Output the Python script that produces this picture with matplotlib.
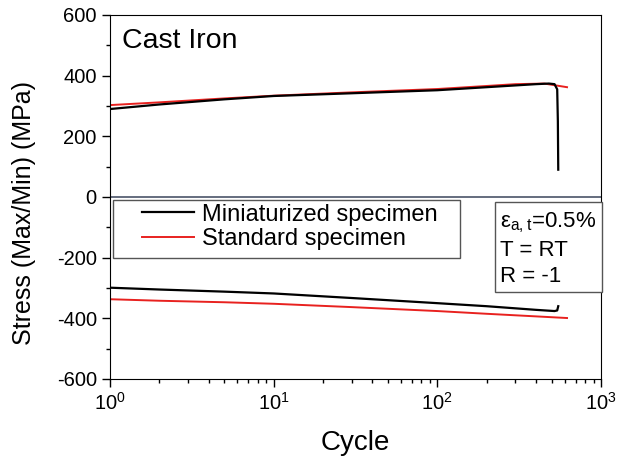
import matplotlib
matplotlib.use('Agg')
import matplotlib.pyplot as plt
import matplotlib as mpl
from matplotlib.patches import Rectangle

mpl.rcParams['font.family'] = ['Liberation Sans', 'DejaVu Sans']
mpl.rcParams['mathtext.default'] = 'regular'
mpl.rcParams['axes.unicode_minus'] = False
mpl.rcParams['xtick.labelsize'] = 14.5
mpl.rcParams['ytick.labelsize'] = 14.5

# miniaturized specimen (black), max and min stress per cycle
mini_cycles_max = [1, 2, 5, 10, 30, 100, 200, 400, 480, 520, 540, 545, 548]
mini_stress_max = [290, 305, 322, 333, 342, 352, 362, 372, 374, 372, 355, 250, 90]
mini_cycles_min = [1, 2, 5, 10, 30, 100, 200, 400, 520, 540, 548]
mini_stress_min = [-299, -305, -312, -318, -333, -350, -360, -372, -376, -374, -360]

# standard specimen (red)
std_cycles = [1, 2, 5, 10, 30, 100, 200, 300, 450, 620]
std_stress_max = [303, 312, 325, 334, 345, 356, 366, 372, 374, 362]
std_stress_min = [-337, -342, -347, -352, -363, -376, -385, -390, -395, -399]

fig = plt.figure(figsize=(6.19, 4.59), dpi=100)
ax = fig.add_axes([110 / 619, 80 / 459, 491 / 619, 364 / 459])

ax.plot(std_cycles, std_stress_max, color='#e8211f', lw=1.4)
ax.plot(std_cycles, std_stress_min, color='#e8211f', lw=1.4)
ax.plot(mini_cycles_max, mini_stress_max, color='black', lw=1.6,
        label='Miniaturized specimen')
ax.plot(mini_cycles_min, mini_stress_min, color='black', lw=1.6)
# proxy for the legend so the red entry shows up
ax.plot([], [], color='#e8211f', lw=1.4, label='Standard specimen')

ax.axhline(0, color='#4a5468', lw=1.2)

ax.set_xscale('log')
ax.set_xlim(1, 1000)
ax.set_ylim(-600, 600)
ax.set_yticks([-600, -400, -200, 0, 200, 400, 600])
ax.set_yticks([-500, -300, -100, 100, 300, 500], minor=True)
ax.tick_params(which='both', direction='out', top=False, right=False)
ax.tick_params(which='major', length=6, width=1)
ax.tick_params(which='minor', length=3, width=1)

ax.set_xlabel('Cycle', fontsize=20)
ax.set_ylabel('Stress (Max/Min) (MPa)', fontsize=18)
ax.xaxis.set_label_coords(0.5, -0.14)
ax.yaxis.set_label_coords(-0.15, 0.455)

ax.text(0.025, 0.965, 'Cast Iron', transform=ax.transAxes, fontsize=20.5,
        va='top', ha='left')

# legend box drawn by hand, legend itself frameless inside it
ax.add_patch(Rectangle((0.006, 0.332), 0.707, 0.16, transform=ax.transAxes,
                       fc='white', ec='#555555', lw=1, zorder=4))
leg = ax.legend(loc='upper left', bbox_to_anchor=(0.055, 0.495), borderaxespad=0,
                frameon=False, fontsize=17, handlelength=2.2,
                handletextpad=0.35, borderpad=0.2, labelspacing=0.1)
leg.set_zorder(5)

ax.text(0.795, 0.463, '$\\epsilon_{a,t}$=0.5%\nT = RT\nR = -1',
        transform=ax.transAxes, fontsize=16, va='top', ha='left',
        linespacing=1.3,
        bbox=dict(boxstyle='square,pad=0.25', fc='white', ec='#555555'))

fig.savefig('out.png', dpi=100)
